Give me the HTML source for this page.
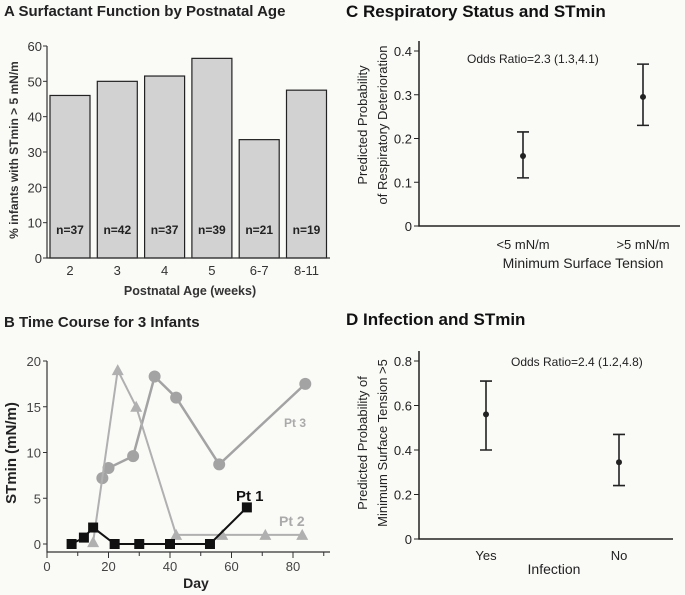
<!DOCTYPE html>
<html><head><meta charset="utf-8"><style>
html,body{margin:0;padding:0;background:#fafaf7;}
svg{display:block;font-family:"Liberation Sans",Arial,sans-serif;}
</style></head><body>
<svg id="fig" width="685" height="595" viewBox="0 0 685 595">
<rect width="685" height="595" fill="#fafaf7"/>
<text x="4" y="16" font-size="15" font-weight="bold" fill="#222">A  Surfactant Function by Postnatal Age</text>
<text x="4" y="327" font-size="15" font-weight="bold" fill="#222">B    Time Course for 3 Infants</text>
<text x="346" y="17" font-size="17" font-weight="bold" fill="#111">C  Respiratory Status and STmin</text>
<text x="346" y="325" font-size="17" font-weight="bold" fill="#111">D  Infection and STmin</text>
<g id="A"></g><g id="B"></g><g id="C"></g><g id="D"></g>
</svg>
<script>
// Panel A data
const aCats=["2","3","4","5","6-7","8-11"];
const aVals=[46,50,51.5,56.5,33.5,47.5];
const aN=["n=37","n=42","n=37","n=39","n=21","n=19"];
const aTicks=[0,10,20,30,40,50,60];
// Panel B data
const bTicks=[0,5,10,15,20];
const bXTicks=[0,20,40,60,80];
const pt1Day=[8,12,15,22,30,40,53,65];
const pt1Val=[0,0.7,1.8,0,0,0,0,4];
const pt2Day=[15,23,29,42,57,71,83];
const pt2Val=[0.2,19,15,1,1,1,1];
const pt3Day=[18,20,28,35,42,56,84];
const pt3Val=[7.2,8.3,9.6,18.3,16,8.7,17.5];
// Panel C data
const cCats=["<5 mN/m",">5 mN/m"];
const cVals=[0.16,0.295];
const cLo=[0.11,0.23];
const cHi=[0.215,0.37];
const cTicks=[0,0.1,0.2,0.3,0.4];
// Panel D data
const dCats=["Yes","No"];
const dVals=[0.56,0.345];
const dLo=[0.40,0.24];
const dHi=[0.71,0.47];
const dTicks=[0,0.2,0.4,0.6,0.8];

const NS="http://www.w3.org/2000/svg";
function mk(parent,tag,attrs,text){const e=document.createElementNS(NS,tag);for(const k in attrs)e.setAttribute(k,attrs[k]);if(text!==undefined)e.textContent=text;parent.appendChild(e);return e;}

// ---- Panel A ----
(function(){
const g=document.getElementById('A');
const y=v=>258-v*(212/60);
const x0=47,bw=40,step=47.3,first=50;
aTicks.forEach(t=>{
 const tk=mk(g,'line',{x1:x0-4,x2:x0,y1:y(t),y2:y(t),stroke:'#333','stroke-width':1});
 
 
 const tl=mk(g,'text',{x:x0-5,y:y(t)+5,'font-size':13,'text-anchor':'end',fill:'#333'},t);
 
 
});
aVals.forEach((v,i)=>{
 const bx=first+i*step;
 const r=mk(g,'rect',{x:bx,y:y(v),width:bw,height:258-y(v),fill:'#d2d2d2',stroke:'#222','stroke-width':1.2});
 
 
 const n=mk(g,'text',{x:bx+bw/2,y:234,'font-size':12,'font-weight':'bold','text-anchor':'middle',fill:'#222'},aN[i]);
 
 
 const c=mk(g,'text',{x:bx+bw/2,y:275,'font-size':13,'text-anchor':'middle',fill:'#333'},aCats[i]);
 
 
});
const ax=mk(g,'path',{d:`M${x0} ${y(60)} V258 H330`,fill:'none',stroke:'#333','stroke-width':1.2});


const xt=mk(g,'text',{x:190,y:295,'font-size':12.5,'font-weight':'bold','text-anchor':'middle',fill:'#333'},'Postnatal Age (weeks)');


const yt=mk(g,'text',{x:0,y:0,'font-size':12,'font-weight':'bold','text-anchor':'middle',fill:'#333',transform:'translate(18,150) rotate(-90)'},'% infants with STmin > 5 mN/m');


})();

// ---- Panel B ----
(function(){
const g=document.getElementById('B');
const X=d=>47+d*(246/80);
const Y=v=>544-v*(183/20);
bTicks.forEach(t=>{
 const tk=mk(g,'line',{x1:43,x2:47,y1:Y(t),y2:Y(t),stroke:'#333'});
 
 
 const tl=mk(g,'text',{x:41,y:Y(t)+5,'font-size':13,'text-anchor':'end',fill:'#444'},t);
 
 
});
for(let d=0;d<=90;d+=10){
 const tk=mk(g,'line',{x1:X(d),x2:X(d),y1:552,y2:d%20===0?558:556,stroke:'#333'});
 
 
}
bXTicks.forEach(t=>{
 const tl=mk(g,'text',{x:X(t),y:571,'font-size':13,'text-anchor':'middle',fill:'#444'},t);
 
 
});
const ax=mk(g,'path',{d:`M47 ${Y(20)} V552 H330`,fill:'none',stroke:'#333','stroke-width':1.2});


function series(days,vals,color,width,shape,name){
 const l=mk(g,'polyline',{points:days.map((d,i)=>X(d)+','+Y(vals[i])).join(' '),fill:'none',stroke:color,'stroke-width':width});
 
 
 days.forEach((d,i)=>{
  const cx=X(d),cy=Y(vals[i]);let m;
  if(shape==='sq')m=mk(g,'rect',{x:cx-5,y:cy-5,width:10,height:10,fill:color});
  else if(shape==='tri')m=mk(g,'polygon',{points:`${cx},${cy-6} ${cx-6},${cy+5} ${cx+6},${cy+5}`,fill:color});
  else m=mk(g,'circle',{cx:cx,cy:cy,r:6,fill:color});
  
  
 });
}
series(pt3Day,pt3Val,'#a3a3a3',2.5,'circ','pt3');
series(pt2Day,pt2Val,'#b0b0b0',2,'tri','pt2');
series(pt1Day,pt1Val,'#111',2,'sq','pt1');
const l1=mk(g,'text',{x:236,y:501,'font-size':15,'font-weight':'bold',fill:'#111'},'Pt 1');

const l2=mk(g,'text',{x:279,y:526,'font-size':14,'font-weight':'bold',fill:'#aaa'},'Pt 2');

const l3=mk(g,'text',{x:284,y:427,'font-size':12,'font-weight':'bold',fill:'#aaa'},'Pt 3');

const xt=mk(g,'text',{x:196,y:588,'font-size':14,'font-weight':'bold','text-anchor':'middle',fill:'#222'},'Day');

const yt=mk(g,'text',{x:0,y:0,'font-size':15,'font-weight':'bold','text-anchor':'middle',fill:'#222',transform:'translate(16,453) rotate(-90)'},'STmin (mN/m)');

})();

// ---- Error bar panels ----
function errPanel(gid,cats,vals,lo,hi,ticks,ymax,x0,yBase,yTop,xEnd,xs,labY,title,titleX,titleY,yl1,yl2,ylX,ylY,odds,oddsX,oddsY,pre,fmt){
 const g=document.getElementById(gid);
 const Y=v=>yBase-v*((yBase-yTop)/ymax);
 ticks.forEach(t=>{
  const tk=mk(g,'line',{x1:x0-5,x2:x0,y1:Y(t),y2:Y(t),stroke:'#222'});
  
  const tl=mk(g,'text',{x:x0-7,y:Y(t)+5,'font-size':13,'text-anchor':'end',fill:'#222'},fmt(t));
  
 });
 const ax=mk(g,'path',{d:`M${x0} ${yTop-10} V${yBase} H${xEnd}`,fill:'none',stroke:'#222','stroke-width':1.5});
 
 cats.forEach((c,i)=>{
  const x=xs[i];
  const e=mk(g,'path',{d:`M${x} ${Y(hi[i])} V${Y(lo[i])} M${x-6} ${Y(hi[i])} H${x+6} M${x-6} ${Y(lo[i])} H${x+6}`,stroke:'#222','stroke-width':1.6,fill:'none'});
  
  const p=mk(g,'circle',{cx:x,cy:Y(vals[i]),r:3,fill:'#222'});
  
  const l=mk(g,'text',{x:x,y:labY,'font-size':13,'text-anchor':'middle',fill:'#222'},c);
  
 });
 const xt=mk(g,'text',{x:titleX,y:titleY,'font-size':14,'text-anchor':'middle',fill:'#222'},title);
 
 const y1=mk(g,'text',{x:0,y:0,'font-size':13,'text-anchor':'middle',fill:'#222',transform:`translate(${ylX},${ylY}) rotate(-90)`},yl1);
 
 const y2=mk(g,'text',{x:0,y:0,'font-size':13,'text-anchor':'middle',fill:'#222',transform:`translate(${ylX+20},${ylY}) rotate(-90)`},yl2);
 
 const o=mk(g,'text',{x:oddsX,y:oddsY,'font-size':12,fill:'#222'},odds);
 
}
errPanel('C',cCats,cVals,cLo,cHi,cTicks,0.4,419,226,51,680,[523,643],249,'Minimum Surface Tension',583,268,
 'Predicted Probability','of Respiratory Deterioration',367,125,'Odds Ratio=2.3 (1.3,4.1)',467,63,'c',t=>t===0?'0':t.toFixed(1));
errPanel('D',dCats,dVals,dLo,dHi,dTicks,0.8,419,539,361,673,[486,619],560,'Infection',554,574,
 'Predicted Probability of','Minimum Surface Tension >5',367,443,'Odds Ratio=2.4 (1.2,4.8)',511,366,'d',t=>t===0?'0':t.toFixed(1));
</script>
</body></html>
